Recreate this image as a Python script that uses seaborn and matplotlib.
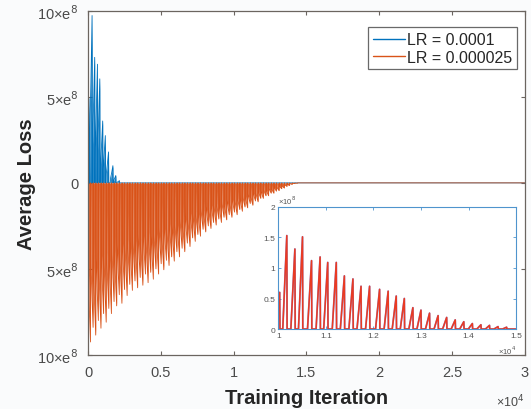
import numpy as np
import pandas as pd
import seaborn as sns
import matplotlib.pyplot as plt

# LR = 0.0001 : spike positions (iterations) and peak loss (x1e8)
blue_peak_x = [60, 270, 450, 640, 800, 1000, 1180, 1400, 1700, 1900, 2150]
blue_peak = [4.9, 9.73, 7.3, 6.9, 6.05, 3.6, 2.75, 1.8, 1.0, 0.43, 0.13]

# LR = 0.000025 : one spike every 180 iterations, peak loss (x1e8), plotted downwards
orange_period = 180
orange_peak = [
    9.25, 8.4, 8.85, 8.0, 8.45, 7.6, 8.1, 7.3, 7.6, 6.9,
    7.15, 6.5, 7.0, 6.2, 6.55, 5.9, 6.25, 5.7, 6.1, 5.5,
    5.95, 5.3, 5.8, 5.2, 5.6, 5.0, 5.3, 4.7, 5.05, 4.5,
    4.8, 4.3, 4.55, 4.0, 4.3, 3.8, 4.0, 3.5, 3.7, 3.2,
    3.4, 3.0, 3.1, 2.7, 2.85, 2.5, 2.65, 2.3, 2.45, 2.1,
    2.3, 2.0, 2.15, 1.85, 2.0, 1.7, 1.85, 1.55, 1.65, 1.4,
    1.45, 1.2, 1.3, 1.05, 1.1, 0.9, 0.9, 0.75, 0.75, 0.6,
    0.6, 0.48, 0.45, 0.34, 0.3, 0.2, 0.15, 0.08, 0.04, 0.02,
]

# inset: zoom on 1.0e4 - 1.5e4
inset_peak_x = [10030, 10180, 10350, 10510, 10700, 10880, 11040, 11220, 11390, 11570,
                11740, 11920, 12130, 12310, 12480, 12650, 12830, 13000, 13180, 13360,
                13540, 13720, 13900, 14080, 14260, 14440, 14620, 14800]
inset_peak = [0.6, 1.53, 1.31, 1.51, 1.12, 1.18, 1.09, 1.09, 0.87, 0.82,
              0.70, 0.70, 0.65, 0.62, 0.54, 0.50, 0.35, 0.31, 0.26, 0.22,
              0.19, 0.15, 0.12, 0.09, 0.07, 0.06, 0.04, 0.03]

blue_c = "#0072BD"
orange_c = "#D95319"
x_end = 30000


def spikes(peak_x, peaks, ramp, drop=15, shape=(0.0, 0.6, 0.0)):
    # shape: fraction of the peak reached at 0.15, 0.55 of the ramp
    xs, ys = [], []
    a, b, _ = shape
    for px, pk in zip(peak_x, peaks):
        xs += [px - ramp, px - 0.85 * ramp, px - 0.45 * ramp, px, px + drop]
        ys += [0.0, a * pk, b * pk, pk, 0.0]
    return np.array(xs), np.array(ys)


sns.set_style("ticks")
plt.rcParams["font.family"] = ["Liberation Sans", "DejaVu Sans"]

fig = plt.figure(figsize=(5.31, 4.10), dpi=100, facecolor="#fafbfc")
ax = fig.add_axes([0.166, 0.132, 0.822, 0.839])

bx, by = spikes(blue_peak_x, blue_peak, ramp=180, shape=(0.3, 0.6, 0))
bx = np.concatenate([[0], bx, [x_end]])
by = np.concatenate([[0], by, [0]]) * 1e8
ox_peaks = [i * orange_period + 160 for i in range(len(orange_peak))]
ox, oy = spikes(ox_peaks, orange_peak, ramp=168, drop=10, shape=(0.55, 0.8, 0))
ox = np.concatenate([ox, [x_end]])
oy = -np.concatenate([oy, [0]]) * 1e8

df = pd.concat([
    pd.DataFrame({"iter": bx, "loss": by, "LR": "LR = 0.0001"}),
    pd.DataFrame({"iter": ox, "loss": oy, "LR": "LR = 0.000025"}),
])

ax.fill_between(bx, 0, by, color=blue_c, alpha=0.85, lw=0)
ax.fill_between(ox, 0, oy, color=orange_c, alpha=0.9, lw=0)
sns.lineplot(data=df, x="iter", y="loss", hue="LR", palette=[blue_c, orange_c],
             sort=False, estimator=None, lw=0.6, ax=ax)

ax.set_xlim(0, x_end)
ax.set_ylim(-1e9, 1e9)
ax.set_xticks([0, 5000, 10000, 15000, 20000, 25000, 30000])
ax.set_xticklabels(["0", "0.5", "1", "1.5", "2", "2.5", "3"])
ax.set_yticks([-1e9, -5e8, 0, 5e8, 1e9])
ylab = ["10×e$^{8}$", "5×e$^{8}$", "0", "5×e$^{8}$", "10×e$^{8}$"]
ax.set_yticklabels(ylab)
ax.tick_params(direction="in", top=True, right=True, length=3, width=0.8,
               labelsize=10.5, labelcolor="#4a4a4a", color="#6b6560", pad=7)
for s in ax.spines.values():
    s.set_color("#6b6560")
    s.set_linewidth(0.9)
ax.set_xlabel("Training Iteration", fontsize=14.5, fontweight="bold", labelpad=7)
ax.set_ylabel("Average Loss", fontsize=14.5, fontweight="bold", labelpad=1)
ax.text(1.0, -0.135, "×10$^{4}$", transform=ax.transAxes, ha="right", va="center",
        fontsize=9, color="#4a4a4a")

leg = ax.legend(loc="upper right", fontsize=11.5, frameon=True, fancybox=False,
                handlelength=2.0, handletextpad=0.1, borderpad=0.3,
                labelspacing=0.15, bbox_to_anchor=(1.0, 0.975))
leg.get_frame().set_edgecolor("#444444")
leg.get_frame().set_linewidth(0.9)
for h in leg.get_lines():
    h.set_linewidth(1.0)

# inset
ins = fig.add_axes([0.524, 0.195, 0.448, 0.298])
ix, iy = spikes(inset_peak_x, inset_peak, ramp=85, drop=6, shape=(0.15, 0.55, 0))
ix = np.concatenate([[10000], ix, [15000]])
iy = np.concatenate([[0], iy, [0]]) * 1e8
sns.lineplot(x=ix, y=iy, sort=False, estimator=None, color="#6a63c8", lw=1.3,
             alpha=0.75, ax=ins)
sns.lineplot(x=ix, y=iy, sort=False, estimator=None, color="#ea3a22", lw=1.1, ax=ins)
ins.set_xlim(10000, 15000)
ins.set_ylim(0, 2e8)
ins.set_xticks([10000, 11000, 12000, 13000, 14000, 15000])
ins.set_xticklabels(["1", "1.1", "1.2", "1.3", "1.4", "1.5"])
ins.set_yticks([0, 0.5e8, 1e8, 1.5e8, 2e8])
ins.set_yticklabels(["0", "0.5", "1", "1.5", "2"])
ins.set_xlabel("")
ins.set_ylabel("")
ins.tick_params(direction="in", top=True, right=True, length=2.5, width=0.6,
                labelsize=6, labelcolor="#555555", color="#4f94cd", pad=2)
for s in ins.spines.values():
    s.set_color("#4f94cd")
    s.set_linewidth(0.8)
ins.text(0.0, 1.01, "×10$^{8}$", transform=ins.transAxes, ha="left", va="bottom",
         fontsize=5.5, color="#555555")
ins.text(1.0, -0.12, "×10$^{4}$", transform=ins.transAxes, ha="right", va="top",
         fontsize=5.5, color="#555555")

fig.savefig("out.png", dpi=100, facecolor=fig.get_facecolor())
